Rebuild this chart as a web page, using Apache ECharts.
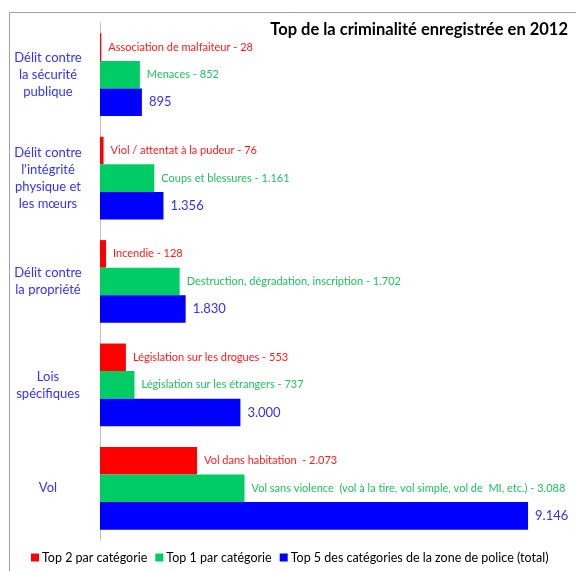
<!DOCTYPE html>
<html><head><meta charset="utf-8">
<script src="https://cdn.jsdelivr.net/npm/echarts@6/dist/echarts.min.js"></script>
<style>html,body{margin:0;padding:0;background:#fff}#c{width:576px;height:571px}</style>
</head><body><div id="c"></div>
<script>
const categories = ["Délit contre\nla sécurité\npublique", "Délit contre\nl'intégrité\nphysique et\nles mœurs", "Délit contre\nla propriété", "Lois\nspécifiques", "Vol"];
const top2Names = ["Association de malfaiteur", "Viol / attentat à la pudeur", "Incendie", "Législation sur les drogues", "Vol dans habitation "];
const top2Values = [28, 76, 128, 553, 2073];
const top1Names = ["Menaces", "Coups et blessures", "Destruction, dégradation, inscription", "Législation sur les étrangers", "Vol sans violence  (vol à la tire, vol simple, vol de  MI, etc.)"];
const top1Values = [852, 1161, 1702, 737, 3088];
const top5Values = [895, 1356, 1830, 3000, 9146];
const seriesNames = ["Top 2 par catégorie", "Top 1 par catégorie", "Top 5 des catégories de la zone de police (total)"];

function fmt(v){ return String(v).replace(/\B(?=(\d{3})+(?!\d))/g, '.'); }
const F = 'Lato, "Noto Sans", sans-serif';
const chart = echarts.init(document.getElementById('c'), null, {renderer:'canvas'});
chart.setOption({
  animation: false,
  title: { text: 'Top de la criminalité enregistrée en 2012', right: 3, top: 16,
    textStyle: { fontFamily: F, fontSize: 16.5, fontWeight: 'bold', color: '#000' } },
  graphic: [{ type: 'polyline', shape: { points: [[9.5, 580], [9.5, 12.5], [580, 12.5]] },
    style: { stroke: '#a0a0a0', lineWidth: 1, fill: null }, silent: true }],
  legend: { bottom: 2, left: 26, itemWidth: 8, itemHeight: 8, itemGap: 8, icon: 'rect',
    textStyle: { fontFamily: F, fontSize: 12.5, color: '#000', padding: [0,0,0,-2] },
    data: seriesNames },
  grid: { left: 100, top: 23, width: 468, height: 517 },
  xAxis: { type: 'value', min: 0, max: 10000, show: false },
  yAxis: { type: 'category', data: categories, inverse: true,
    axisLine: { lineStyle: { color: '#c0c0c0', width: 1 } }, axisTick: { show: false },
    axisLabel: { align: 'center', margin: 52, fontFamily: F, fontSize: 13, lineHeight: 17, color: '#3333ff' } },
  series: [
    { name: seriesNames[0], type: 'bar', data: top2Values, barGap: '0%', barCategoryGap: '20%',
      itemStyle: { color: '#ff0000' },
      label: { show: true, position: 'right', distance: 7, fontFamily: F, fontSize: 11, color: '#ff1a1a',
        formatter: p => top2Names[p.dataIndex] + ' - ' + fmt(p.value) } },
    { name: seriesNames[1], type: 'bar', data: top1Values,
      itemStyle: { color: '#00cc66' },
      label: { show: true, position: 'right', distance: 7, fontFamily: F, fontSize: 11, color: '#22c060',
        formatter: p => top1Names[p.dataIndex] + ' - ' + fmt(p.value) } },
    { name: seriesNames[2], type: 'bar', data: top5Values,
      itemStyle: { color: '#0000ff' },
      label: { show: true, position: 'right', distance: 7, fontFamily: F, fontSize: 13, color: '#3333ee',
        formatter: p => fmt(p.value) } }
  ]
});
</script></body></html>
